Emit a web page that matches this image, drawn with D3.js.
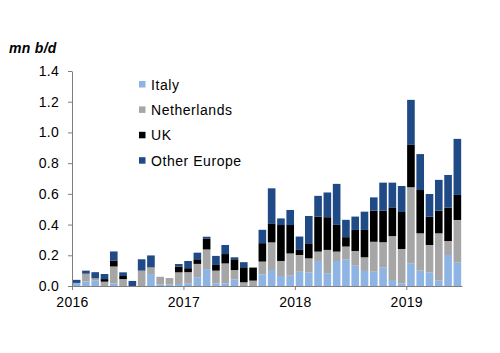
<!DOCTYPE html>
<html>
<head>
<meta charset="utf-8">
<script src="https://cdn.jsdelivr.net/npm/d3@7"></script>
<style>
  body { margin: 0; background: #fff; }
  text { font-family: "Liberation Sans", Arial, sans-serif; }
</style>
</head>
<body>
<div id="chart"></div>
<script>
// monthly imports, Jan 2016 - Jun 2019, mn b/d
const months = d3.range(42).map(i => new Date(2016, i, 1));
const italy = [0.02, 0.03, 0.035, 0, 0.017, 0, 0, 0, 0.078, 0.01, 0.01, 0.013,
  0.018, 0.057, 0.11, 0.017, 0.017, 0.043, 0, 0, 0.076, 0.104, 0.065, 0.067,
  0.093, 0.089, 0.163, 0.083, 0.163, 0.174, 0.132, 0.098, 0.093, 0.122, 0.039, 0.017,
  0.148, 0.1, 0.089, 0.035, 0.202, 0.152];
const netherlands = [0, 0.05, 0.015, 0.028, 0.11, 0.045, 0, 0.1, 0.043, 0.05, 0.042, 0.076,
  0.072, 0.087, 0.128, 0.083, 0.13, 0.061, 0.024, 0.035, 0.083, 0.18, 0.098, 0.145,
  0.109, 0.091, 0.061, 0.152, 0.061, 0.083, 0.096, 0.089, 0.195, 0.163, 0.286, 0.224,
  0.495, 0.243, 0.178, 0.308, 0.091, 0.278];
const uk = [0, 0, 0, 0.017, 0.039, 0.02, 0, 0, 0, 0, 0, 0.037,
  0.026, 0.03, 0.072, 0.037, 0.061, 0.07, 0.098, 0.085, 0.12, 0.124, 0.234, 0.185,
  0.033, 0.098, 0.228, 0.213, 0.174, 0.061, 0.137, 0.178, 0.202, 0.206, 0.187, 0.241,
  0.276, 0.282, 0.184, 0.148, 0.217, 0.163];
const otherEurope = [0.02, 0.02, 0.04, 0.033, 0.059, 0.024, 0.033, 0.074, 0.078, 0, 0, 0.017,
  0.047, 0.043, 0.011, 0.059, 0.059, 0.013, 0.033, 0, 0.087, 0.228, 0.043, 0.098,
  0.087, 0.178, 0.135, 0.161, 0.267, 0.113, 0.087, 0.119, 0.087, 0.182, 0.161, 0.169,
  0.293, 0.234, 0.148, 0.2, 0.213, 0.365];
const seriesNames = ["Italy", "Netherlands", "UK", "Other Europe"];
const colors = ["#8db4e3", "#a6a6a6", "#000000", "#1f4a86"];
const yTicks = [0, 0.2, 0.4, 0.6, 0.8, 1.0, 1.2, 1.4];
const yearTicks = [2016, 2017, 2018, 2019];

const width = 500, height = 353,
    margin = ({ top: 71, right: 38, bottom: 67, left: 72 });

const svg = d3.select("#chart")
    .append("svg")
    .attr("width", width)
    .attr("height", height);

// table for d3.stack
const table = months.map((m, i) => ({
    month: m,
    "Italy": italy[i],
    "Netherlands": netherlands[i],
    "UK": uk[i],
    "Other Europe": otherEurope[i]
}));
const stacked = d3.stack().keys(seriesNames)(table);

let x = d3.scaleBand()
    .domain(months)
    .range([margin.left, width - margin.right])
    .paddingInner(0.18)
    .paddingOuter(0.09);

let y = d3.scaleLinear()
    .domain([0, 1.4])
    .range([height - margin.bottom, margin.top]);

// bars
svg.append("g")
  .selectAll("g")
  .data(stacked)
  .join("g")
    .attr("fill", (d, i) => colors[i])
  .selectAll("rect")
  .data(d => d)
  .join("rect")
    .attr("x", d => x(d.data.month))
    .attr("width", x.bandwidth())
    .attr("y", d => y(d[1]))
    .attr("height", d => y(d[0]) - y(d[1]));

// y axis
const yAxis = svg.append("g")
    .attr("transform", `translate(${margin.left},0)`)
    .call(d3.axisLeft(y).tickValues(yTicks).tickFormat(d3.format(".1f")).tickSize(4).tickSizeOuter(0).tickPadding(9));
yAxis.select(".domain").attr("stroke", "#7f7f7f");
yAxis.selectAll(".tick line").attr("stroke", "#7f7f7f");
yAxis.selectAll("text").style("font-size", "14px").style("letter-spacing", "0.3px").attr("fill", "#000");

// x axis: ticks at year boundaries
const step = x.step();
let xYear = d3.scaleLinear()
    .domain([2016, 2019.5])
    .range([margin.left, margin.left + 42 * step]);
const xAxis = svg.append("g")
    .attr("transform", `translate(0,${height - margin.bottom})`)
    .call(d3.axisBottom(xYear).tickValues(yearTicks).tickFormat(d3.format("d")).tickSize(4).tickSizeOuter(0).tickPadding(7));
xAxis.select(".domain").attr("stroke", "#7f7f7f");
xAxis.selectAll(".tick line").attr("stroke", "#7f7f7f");
xAxis.selectAll("text").style("font-size", "14px").style("letter-spacing", "0.3px").attr("fill", "#000");

// unit label
svg.append("text")
    .attr("x", 9)
    .attr("y", 53)
    .style("font-size", "14px")
    .style("font-weight", "bold")
    .style("font-style", "italic")
    .style("letter-spacing", "0.3px")
    .text("mn b/d");

// legend
const legend = svg.append("g")
  .selectAll("g")
  .data(seriesNames)
  .join("g")
    .attr("transform", (d, i) => `translate(139,${81 + i * 25.4})`);
legend.append("rect")
    .attr("width", 6.5)
    .attr("height", 6.5)
    .attr("fill", (d, i) => colors[i]);
legend.append("text")
    .attr("x", 12)
    .attr("y", 8.5)
    .style("font-size", "14px")
    .style("letter-spacing", "0.55px")
    .text(d => d);
</script>
</body>
</html>
